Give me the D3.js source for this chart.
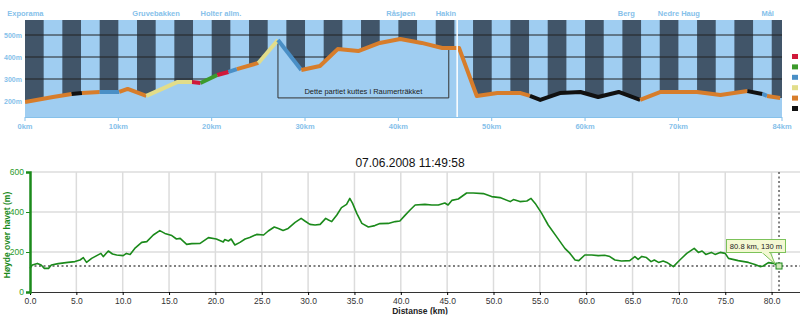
<!DOCTYPE html>
<html><head><meta charset="utf-8">
<script src="https://cdn.jsdelivr.net/npm/d3@7"></script>
<style>body{margin:0;background:#fff}svg{display:block}text{font-family:"Liberation Sans",Arial,sans-serif}</style>
</head><body><svg id="c" width="800" height="326"></svg>
<script>
// ---------- top panel data ----------
const topKm   = [0,3.0,5.0,6.1,8.0,10.1,11.0,13.0,16.3,17.9,18.8,20.6,21.8,22.7,25.0,27.1,29.6,31.6,33.5,35.7,38.0,40.2,42.5,44.7,46.5,48.4,50.6,53.1,54.1,55.2,57.3,59.5,61.4,63.6,65.9,68.1,72.0,74.5,77.4,79.0,79.5,80.9];
const topElev = [195,218,232,236,241,241,255,223,286,286,282,318,332,345,373,477,341,359,436,427,464,482,464,441,441,223,236,236,223,205,236,241,218,241,205,241,241,227,245,232,223,214];
// category of the segment that starts at each point
const topSeg  = ["k5","k5","k6","k5","k3","k5","k5","k4","k4","k1","k2","k1","k3","k5","k4","k3",
                 "k5","k5","k5","k5","k5","k5","k5","k5","k5","k5","k5","k5",
                 "k6","k6","k6","k6","k6","k6",
                 "k5","k5","k5","k5",
                 "k6","k3","k5"];
const legendCats = ["k1","k2","k3","k4","k5","k6"];
const topYTicks = [200,300,400,500];
const topXTicks = [0,10,20,30,40,50,60,70];
const topEndKm = 81.1, topEndLabel = "84km";
const places = [["Exporama",-1.9],["Gruvebakken",11.5],["Holter allm.",18.8],["Råsjøen",38.7],["Hakin",44.0],["Berg",63.5],["Nedre Haug",67.8],["Mål",78.9]];
const cutFrom = 27.1, cutTo = 45.4, cutText = "Dette partiet kuttes i Raumerträkket";
const splitKm = 46.3;

// ---------- bottom chart data ----------
const botKm = [0,0.25,0.8,1.2,1.55,2.0,2.3,3.05,4.1,4.85,5.4,5.75,6.1,6.65,7.2,7.65,7.9,8.45,8.9,9.35,10.05,10.4,10.8,11.3,12.05,12.6,13.3,14.0,14.55,15.3,15.8,16.2,16.9,17.45,18.35,19.25,20.1,20.6,20.85,21.0,21.4,21.7,22.1,22.65,23.2,23.7,24.45,25.2,25.7,26.35,26.8,27.3,27.85,28.6,29.25,29.65,30.2,30.75,31.3,31.9,32.2,32.55,33.1,33.6,34.15,34.5,34.8,35.25,35.8,36.5,37.2,37.75,38.65,39.4,39.9,40.45,41.0,41.55,42.6,43.35,44.05,44.75,45.1,45.5,46.2,47.1,47.8,48.9,49.8,50.7,51.8,52.15,52.85,53.6,54.05,54.5,55.2,55.9,56.8,57.7,58.25,58.8,59.2,59.85,60.6,61.3,62.0,62.55,63.1,63.8,64.7,65.25,65.6,66.0,66.5,67.0,67.35,67.8,68.3,68.7,69.4,70.1,70.85,71.65,72.1,72.5,72.9,73.5,73.9,74.45,75.0,75.35,76.4,77.5,78.2,78.75,79.1,79.65,80.2,80.8];
const botElev = [118,135,143,135,118,118,135,142,148,152,160,172,148,168,182,193,177,205,190,185,182,193,188,218,248,252,285,307,293,282,265,268,238,242,243,272,265,255,250,262,255,265,235,248,265,272,288,285,305,325,318,308,318,348,368,355,338,335,338,368,360,352,385,422,438,468,443,393,343,325,332,342,343,352,355,383,410,435,438,435,435,445,435,458,465,495,495,492,477,472,452,462,452,455,468,443,393,335,277,218,193,160,157,185,185,182,184,177,160,155,157,177,163,178,172,152,160,148,155,148,127,160,193,218,198,205,188,198,188,198,193,168,157,148,138,127,130,147,143,130];
const botXTicks = [0,5,10,15,20,25,30,35,40,45,50,55,60,65,70,75,80];
const botYTicks = [0,200,400,600];
const title = "07.06.2008 11:49:58";
const yTitle = "Høyde over havet (m)";
const xTitle = "Distanse (km)";
const refElev = 130, cursorKm = 80.8, cursorLabel = "80.8 km, 130 m";

// ---------- drawing ----------
const svg = d3.select("#c");
const LB = "#9fcdf1", DARK = "#415569", LABEL = "#86c1ea";
const catColor = d3.scaleOrdinal().domain(legendCats).range(["#d0193a","#3c9a2c","#4a8fc6","#e2dd8a","#d77d2b","#111111"]);

const tx = d3.scaleLinear().domain([0, topEndKm]).range([25, 782]);
const ty = d3.scaleLinear().domain([200, 500]).range([101, 35]);
const tTop = 20, tBot = 117;

const defs = svg.append("defs");
defs.append("clipPath").attr("id","tc").append("rect")
  .attr("x",25).attr("y",tTop).attr("width",782-25).attr("height",tBot-tTop);
defs.append("clipPath").attr("id","xc").append("rect")
  .attr("x",0).attr("y",290).attr("width",800).attr("height",24.5);

const topG = svg.append("g");
const tp = topG.append("g").attr("clip-path","url(#tc)");
tp.append("rect").attr("x",25).attr("y",tTop).attr("width",757).attr("height",tBot-tTop).attr("fill",LB);
// stripes every 4 km (2 km dark)
tp.selectAll("rect.s").data(d3.range(0, topEndKm, 4)).join("rect").attr("class","s")
  .attr("x", d => tx(d)).attr("y", tTop).attr("width", d => tx(d+2)-tx(d)).attr("height", tBot-tTop).attr("fill", DARK);
// grid
tp.selectAll("line.g").data(topYTicks).join("line").attr("class","g")
  .attr("x1",25).attr("x2",782).attr("y1",d=>ty(d)).attr("y2",d=>ty(d)).attr("stroke","#222").attr("stroke-width",1);
// terrain area
const tPts = topKm.map((k,i)=>[k, topElev[i]]);
tp.append("path").attr("fill",LB)
  .attr("d", d3.area().x(d=>tx(d[0])).y0(tBot).y1(d=>ty(d[1]))(tPts.concat([[topEndKm, topElev[topElev.length-1]]])));
// bracket box
const bx1 = tx(cutFrom), bx2 = tx(cutTo), byB = ty(214);
tp.append("path").attr("fill","none").attr("stroke","#333").attr("stroke-width",1)
  .attr("d", `M${bx1},${ty(477)}V${byB}H${bx2}V${ty(445)}`);
tp.append("text").attr("x",(bx1+bx2)/2).attr("y",byB-4).attr("text-anchor","middle")
  .attr("font-size",7.5).attr("fill","#222").text(cutText);
// terrain coloured line
const runs = [];
topSeg.forEach((c,i) => {
  const last = runs[runs.length-1];
  if (last && last.c === c) last.pts.push(tPts[i+1]);
  else runs.push({c, pts:[tPts[i], tPts[i+1]]});
});
const tl = d3.line().x(d=>tx(d[0])).y(d=>ty(d[1]));
tp.selectAll("path.r").data(runs).join("path").attr("class","r")
  .attr("d", d=>tl(d.pts)).attr("fill","none").attr("stroke", d=>catColor(d.c))
  .attr("stroke-width",4).attr("stroke-linejoin","round").attr("stroke-linecap","butt");
// white split line
tp.append("line").attr("x1",tx(splitKm)).attr("x2",tx(splitKm)).attr("y1",tTop).attr("y2",tBot).attr("stroke","#fff").attr("stroke-width",1.5);
// top axes
topG.append("line").attr("x1",25).attr("x2",782).attr("y1",tBot+0.5).attr("y2",tBot+0.5).attr("stroke",LABEL).attr("stroke-width",1);
const xt = topXTicks.map(d=>[d, d+"km"]).concat([[topEndKm, topEndLabel]]);
topG.selectAll("line.xt").data(xt).join("line").attr("class","xt")
  .attr("x1",d=>tx(d[0])).attr("x2",d=>tx(d[0])).attr("y1",tBot).attr("y2",tBot+4).attr("stroke",LABEL);
topG.selectAll("text.xl").data(xt).join("text").attr("class","xl")
  .attr("x",d=>tx(d[0])).attr("y",129).attr("text-anchor","middle").attr("font-size",7.5).attr("font-weight","bold")
  .attr("fill",LABEL).text(d=>d[1]);
topG.selectAll("text.yl").data(topYTicks).join("text").attr("class","yl")
  .attr("x",4).attr("y",d=>ty(d)+3).attr("font-size",7).attr("font-weight","bold").attr("fill",LABEL).text(d=>d+"m");
topG.selectAll("text.pl").data(places).join("text").attr("class","pl")
  .attr("x",d=>tx(d[1])).attr("y",15.5).attr("text-anchor","start").attr("font-size",7.5).attr("font-weight","bold")
  .attr("fill",LABEL).text(d=>d[0]);
// legend squares
topG.selectAll("rect.lg").data(legendCats).join("rect").attr("class","lg")
  .attr("x",792).attr("y",(d,i)=>54+i*10.4).attr("width",6).attr("height",5).attr("fill",d=>catColor(d));

// ---------- bottom chart ----------
const L = 30, R = 800, T = 172, B = 292;
const bx = d3.scaleLinear().domain([0, 80]).range([L, 771.6]);
const by = d3.scaleLinear().domain([0, 600]).range([B, T]);
const bot = svg.append("g");
bot.selectAll("line.vg").data(botXTicks.slice(1)).join("line").attr("class","vg")
  .attr("x1",d=>bx(d)).attr("x2",d=>bx(d)).attr("y1",T).attr("y2",B).attr("stroke","#dcdcdc").attr("stroke-width",1.5);
bot.selectAll("line.hg").data(botYTicks.slice(1)).join("line").attr("class","hg")
  .attr("x1",L).attr("x2",R).attr("y1",d=>by(d)).attr("y2",d=>by(d)).attr("stroke","#dcdcdc").attr("stroke-width",1.5);
// reference dotted lines
bot.append("line").attr("x1",L).attr("x2",R).attr("y1",by(refElev)).attr("y2",by(refElev))
  .attr("stroke","#555").attr("stroke-width",1.3).attr("stroke-dasharray","2,2.5");
bot.append("line").attr("x1",bx(cursorKm)).attr("x2",bx(cursorKm)).attr("y1",T).attr("y2",B)
  .attr("stroke","#444").attr("stroke-width",1.3).attr("stroke-dasharray","2,2.5");
// profile
const bPts = botKm.map((k,i)=>[k, botElev[i]]);
bot.append("path").attr("fill","none").attr("stroke","#1b8a1b").attr("stroke-width",1.6)
  .attr("stroke-linejoin","round").attr("d", d3.line().x(d=>bx(d[0])).y(d=>by(d[1]))(bPts));
// axes
const xAxis = bot.append("g").attr("transform",`translate(0,${B})`)
  .call(d3.axisBottom(bx).tickValues(botXTicks).tickFormat(d3.format(".1f")).tickSize(3));
xAxis.select(".domain").attr("d",`M${L},0.5H${R}`).attr("stroke","#333");
xAxis.selectAll("text").attr("font-size",8.5).attr("fill","#333").attr("font-family","Liberation Sans, Arial, sans-serif").attr("dy","0.75em");
const yAxis = bot.append("g").attr("transform",`translate(${L},0)`)
  .call(d3.axisLeft(by).tickValues(botYTicks).tickSize(4));
yAxis.select(".domain").attr("stroke","#1b8a1b").attr("stroke-width",2.5);
yAxis.selectAll("line").attr("stroke","#1b8a1b");
yAxis.selectAll("text").attr("font-size",8.5).attr("fill","#2a9a2a").attr("font-family","Liberation Sans, Arial, sans-serif").attr("dx","0.1em");
// titles
svg.append("text").attr("x",410).attr("y",167).attr("text-anchor","middle").attr("font-size",12).attr("fill","#111").text(title);
svg.append("text").attr("transform",`translate(10,${(T+B)/2+3}) rotate(-90)`).attr("text-anchor","middle")
  .attr("font-size",8.5).attr("font-weight","bold").attr("fill","#1b8a1b").text(yTitle);
svg.append("text").attr("clip-path","url(#xc)").attr("x",420).attr("y",314).attr("text-anchor","middle")
  .attr("font-size",8.5).attr("font-weight","bold").attr("fill","#222").text(xTitle);
// cursor tooltip
const cx = bx(cursorKm), cy = by(refElev);
bot.append("path").attr("d",`M${cx-18},251.5L${cx-4},${cy-2}L${cx-9},251.5`).attr("fill","#f3f8d2").attr("stroke","#7cc25a").attr("stroke-width",1);
bot.append("rect").attr("x",726.5).attr("y",239.5).attr("width",59).attr("height",13).attr("fill","#f3f8d2").attr("stroke","#7cc25a").attr("stroke-width",1);
bot.append("line").attr("x1",cx-17).attr("x2",cx-10).attr("y1",252.5).attr("y2",252.5).attr("stroke","#f3f8d2").attr("stroke-width",1.5);
bot.append("text").attr("x",756).attr("y",249).attr("text-anchor","middle").attr("font-size",7.6).attr("fill","#222").text(cursorLabel);
bot.append("rect").attr("x",cx-3).attr("y",cy-3).attr("width",6).attr("height",6).attr("fill","#cfe8b8").attr("stroke","#1b8a1b").attr("stroke-width",1);
</script></body></html>
